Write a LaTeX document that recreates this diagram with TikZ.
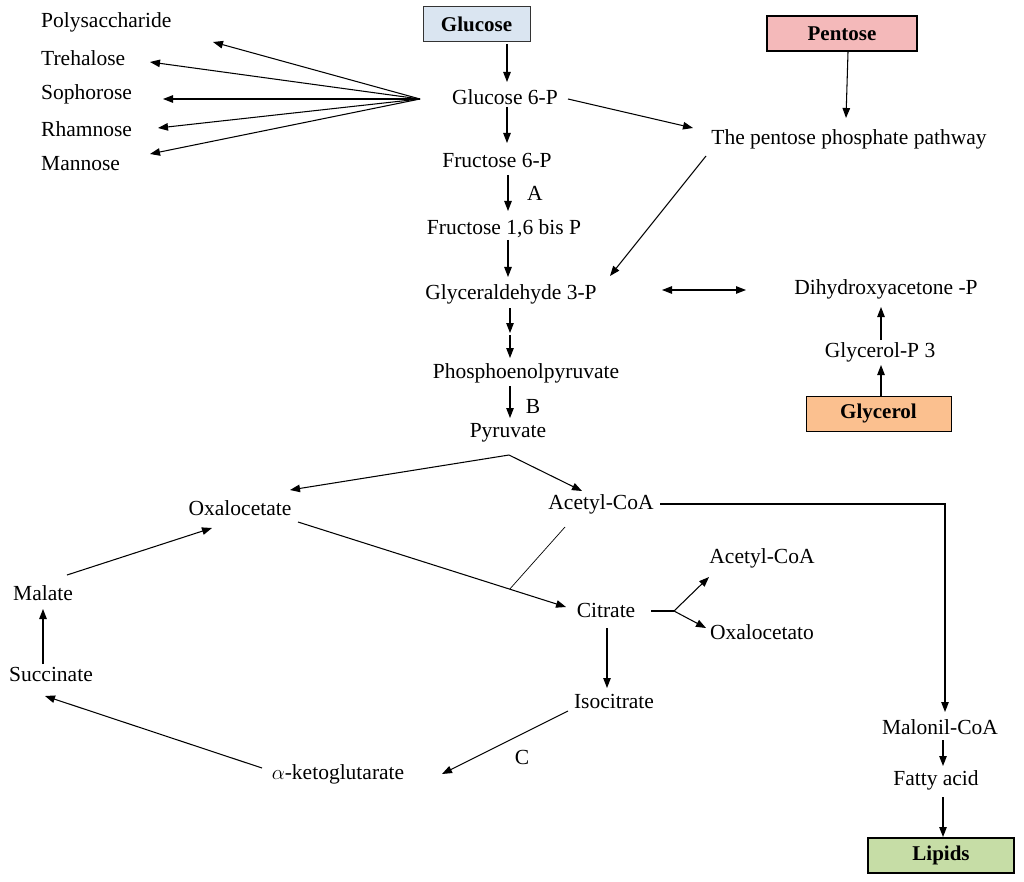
\documentclass[tikz,border=0pt]{standalone}
\usepackage{fontspec}
\setmainfont{Liberation Serif}
\usetikzlibrary{arrows.meta,calc}
\begin{document}
\begin{tikzpicture}[x=1pt,y=-1pt,
  lbl/.style={inner sep=0pt,font=\fontsize{21.5}{25}\selectfont},
  llbl/.style={lbl,anchor=west},
  boxn/.style={draw=black,line width=1pt,minimum height=35pt,inner sep=0pt,font=\fontsize{21}{25}\selectfont\bfseries},
  arr/.style={line width=1.05pt,-{Triangle[length=10pt,width=7.5pt]}},
  darr/.style={line width=1.05pt,{Triangle[length=10pt,width=7.5pt]}-{Triangle[length=10pt,width=7.5pt]}},
  ln/.style={line width=1.05pt},
  thinln/.style={line width=0.7pt}]
\definecolor{glcblue}{HTML}{DAE5F1}
\definecolor{penpink}{HTML}{F4B9BA}
\definecolor{glyorange}{HTML}{FBC08F}
\definecolor{lipgreen}{HTML}{C6DDA6}
\useasboundingbox (0,0) rectangle (1024,882);
% boxes
\node[boxn,fill=glcblue,minimum width=107pt,draw=black!80] (glc) at (476.5,24.5) {Glucose};
\node[boxn,fill=penpink,minimum width=150pt,line width=1.8pt] (pen) at (842,33.5) {Pentose};
\node[boxn,fill=glyorange,minimum width=145pt] (gly) at (878.5,413.5) {Glycerol};
\node[boxn,fill=lipgreen,minimum width=146pt,line width=1.3pt] (lip) at (941,855.5) {Lipids};
% labels
\node[lbl] (g6p) at (505,97) {Glucose 6-P};
\node[lbl] (f6p) at (497,160) {Fructose 6-P};
\node[lbl] (lblA) at (535,193) {A};
\node[lbl] (f16) at (504,229) {Fructose 1,6 bis P};
\node[lbl] (g3p) at (511,294) {Glyceraldehyde 3-P};
\node[lbl] (pep) at (526,373) {Phosphoenolpyruvate};
\node[lbl] (lblB) at (533,406) {B};
\node[lbl] (pyr) at (508,433) {Pyruvate};
\node[lbl] (ppp) at (849,139) {The pentose phosphate pathway};
\node[lbl] (dhap) at (886,289) {Dihydroxyacetone -P};
\node[lbl] (glyp) at (880,352) {Glycerol-P 3};
\node[llbl] (poly) at (41,22) {Polysaccharide};
\node[llbl] (tre) at (41,58) {Trehalose};
\node[llbl] (sop) at (41,94) {Sophorose};
\node[llbl] (rha) at (41,129) {Rhamnose};
\node[llbl] (man) at (41,164) {Mannose};
\node[lbl] (oxa) at (240,508) {Oxalocetate};
\node[lbl] (aca) at (601,504) {Acetyl-CoA};
\node[lbl] (mal) at (940,727) {Malonil-CoA};
\node[lbl] (fa) at (936,780) {Fatty acid};
\node[lbl] (cit) at (606,610) {Citrate};
\node[lbl] (aca2) at (762,558) {Acetyl-CoA};
\node[lbl] (oxo) at (762,632) {Oxalocetato};
\node[lbl] (iso) at (614,701) {Isocitrate};
\node[lbl] (lblC) at (522,757) {C};
\node[lbl] (akg) at (338,774) {$\alpha$-ketoglutarate};
\node[lbl] (suc) at (51,674) {Succinate};
\node[lbl] (mala) at (43,593) {Malate};
% helper coordinates
\coordinate (fan) at (420,99);
\coordinate (gmid) at (510,333);
\coordinate (pyv) at (509,455);
\coordinate (acor) at (945,504);
\coordinate (cbr) at (674,611);
% glycolysis chain
\draw[arr] ($(glc)+(30.5,19.5)$) -- ($(g6p)+(2,-15)$);
\draw[arr] ($(g6p)+(2,10)$) -- ($(f6p)+(10,-17)$);
\draw[arr] ($(f6p)+(11,15)$) -- ($(f16)+(4,-18)$);
\draw[arr] ($(f16)+(4,11)$) -- ($(g3p)+(-3,-17)$);
\draw[arr] ($(g3p)+(-1,14)$) -- (gmid);
\draw[arr] ($(gmid)+(0,2)$) -- ($(pep)+(-16,-15)$);
\draw[arr] ($(pep)+(-16,13)$) -- ($(pyr)+(2,-15)$);
% pentose
\draw[arr] ($(g6p)+(63,2)$) -- ($(ppp)+(-156,-11)$);
\draw[arr] ($(pen)+(6,18.5)$) -- ($(ppp)+(-3,-21)$);
\draw[arr] ($(ppp)+(-143,17)$) -- ($(g3p)+(99,-18)$);
\draw[darr] ($(g3p)+(151,-4)$) -- ($(dhap)+(-140,1)$);
% glycerol
\draw[arr] ($(glyp)+(1,-12)$) -- ($(dhap)+(-5,18)$);
\draw[arr] ($(gly)+(2.5,-17.5)$) -- ($(glyp)+(1,13)$);
% fan
\draw[arr] (fan) -- ($(poly.west)+(172,20)$);
\draw[arr] (fan) -- ($(tre.west)+(109,4)$);
\draw[arr] (fan) -- ($(sop.west)+(122,5)$);
\draw[arr] (fan) -- ($(rha.west)+(117,-1)$);
\draw[arr] (fan) -- ($(man.west)+(109,-10)$);
% pyruvate branch
\draw[arr] (pyv) -- ($(oxa)+(50,-18)$);
\draw[arr] (pyv) -- ($(aca)+(-19,-13)$);
% acetyl-coa to lipids
\draw[arr] ($(aca)+(59,0)$) -- (acor) -- ($(mal)+(5,-15)$);
\draw[arr] ($(mal)+(3,13)$) -- ($(fa)+(7,-14)$);
\draw[arr] ($(fa)+(7,17)$) -- ($(lip)+(2,-18.5)$);
% TCA
\draw[arr] ($(oxa)+(58,14)$) -- coordinate[pos=0.79] (jn) ($(cit)+(-40,-3)$);
\draw[thinln] ($(aca)+(-36,23)$) -- (jn);
\draw[ln] ($(cit)+(45,1)$) -- (cbr);
\draw[arr] (cbr) -- ($(aca2)+(-53,19)$);
\draw[arr] (cbr) -- ($(oxo)+(-56,-4)$);
\draw[arr] ($(cit)+(1,18)$) -- ($(iso)+(-7,-13)$);
\draw[arr] ($(iso)+(-46,10)$) -- ($(akg)+(104,0)$);
\draw[arr] ($(akg)+(-76,-6)$) -- ($(suc)+(-6,22)$);
\draw[arr] ($(suc)+(-8,-10)$) -- ($(mala)+(0,16)$);
\draw[arr] ($(mala)+(24,-18)$) -- ($(oxa)+(-28,20)$);
\end{tikzpicture}
\end{document}
